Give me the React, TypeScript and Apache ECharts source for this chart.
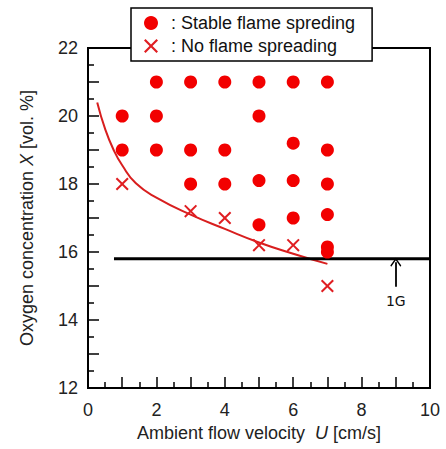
import React, { useEffect, useRef } from "react";
import * as echarts from "echarts";

// Stable flame spreading (U [cm/s], X [vol.%])
const stableU = [2, 3, 4, 5, 6, 7, 1, 2, 5, 1, 2, 3, 4, 6, 7, 3, 4, 5, 6, 7, 5, 6, 7, 7, 7];
const stableX = [21, 21, 21, 21, 21, 21, 20, 20, 20, 19, 19, 19, 19, 19.2, 19, 18, 18, 18.1, 18.1, 18, 16.8, 17, 17.1, 16.15, 16.0];

// No flame spreading
const noSpreadU = [1, 3, 4, 5, 6, 7];
const noSpreadX = [18, 17.2, 17, 16.2, 16.2, 15];

// Limit curve
const curveU = [0.27, 0.5, 0.75, 1.0, 1.4, 2, 3, 4, 5, 6, 7];
const curveX = [20.4, 19.62, 19.0, 18.55, 18.02, 17.6, 17.1, 16.68, 16.28, 15.95, 15.65];

// 1G line
const oneGU = [0.76, 10];
const oneGX = [15.8, 15.8];
const arrowU = 9;
const arrowFromX = 14.98;
const arrowToX = 15.7;
const oneGLabelX = 14.55;

const xTicks = [0, 2, 4, 6, 8, 10];
const yTicks = [12, 14, 16, 18, 20, 22];

const crossPath =
  "path://M0,1.3L1.3,0L6,4.7L10.7,0L12,1.3L7.3,6L12,10.7L10.7,12L6,7.3L1.3,12L0,10.7L4.7,6Z";
const chevron = "path://M0,0L6,7L5,8L0,2.2L-5,8L-6,7Z";

const FONT = "'Liberation Sans', Arial, sans-serif";

export default function App() {
  const ref = useRef<HTMLDivElement>(null);
  useEffect(() => {
    if (!ref.current) return;
    const chart = echarts.init(ref.current, undefined, { renderer: "svg" });
    const axisCommon = {
      axisLine: { show: true, onZero: false, lineStyle: { color: "#000", width: 2 } },
      axisTick: { show: true, inside: true, length: 11, lineStyle: { color: "#000", width: 1.5 } },
      minorTick: { show: true, splitNumber: 2, length: 6, lineStyle: { color: "#000", width: 1.5 } },
      splitLine: { show: false },
      minorSplitLine: { show: false },
    };
    chart.setOption({
      animation: false,
      backgroundColor: "#fff",
      grid: {
        left: 88,
        right: 16,
        top: 48,
        bottom: 61,
        show: true,
        borderColor: "#000",
        borderWidth: 2,
        backgroundColor: "transparent",
      },
      legend: {
        left: 131,
        top: 8,
        orient: "vertical",
        backgroundColor: "#fff",
        borderColor: "#000",
        borderWidth: 1.5,
        borderRadius: 0,
        padding: [6, 17, 6, 13],
        itemGap: 5,
        itemWidth: 14,
        itemHeight: 14,
        z: 10,
        textStyle: { fontSize: 18, color: "#111", fontFamily: FONT, padding: [0, 0, 0, 8] },
        data: [
          { name: "Stable flame spreding", icon: "circle" },
          { name: "No flame spreading", icon: crossPath },
        ],
        formatter: (n: string) => ": " + n,
      },
      xAxis: {
        type: "value",
        min: 0,
        max: 10,
        interval: 1,
        ...axisCommon,
        axisLabel: {
          fontSize: 18,
          color: "#222",
          fontFamily: FONT,
          margin: 13,
          formatter: (v: number) => (xTicks.includes(v) ? String(v) : ""),
        },
        name: "Ambient flow velocity  {i|U} [cm/s]",
        nameLocation: "middle",
        nameGap: 36,
        nameTextStyle: {
          fontSize: 18,
          color: "#222",
          fontFamily: FONT,
          rich: { i: { fontSize: 18, fontStyle: "italic", color: "#222", fontFamily: FONT } },
        },
      },
      yAxis: {
        type: "value",
        min: 12,
        max: 22,
        interval: 1,
        ...axisCommon,
        axisLabel: {
          fontSize: 18,
          color: "#222",
          fontFamily: FONT,
          margin: 10,
          formatter: (v: number) => (yTicks.includes(v) ? String(v) : ""),
        },
        name: "Oxygen concentration {i|X} [vol. %]",
        nameLocation: "middle",
        nameGap: 52,
        nameTextStyle: {
          fontSize: 18,
          color: "#222",
          fontFamily: FONT,
          rich: { i: { fontSize: 18, fontStyle: "italic", color: "#222", fontFamily: FONT } },
        },
      },
      series: [
        {
          type: "line",
          name: "curve",
          data: curveU.map((u, i) => [u, curveX[i]]),
          smooth: 0.5,
          showSymbol: false,
          symbol: "none",
          lineStyle: { color: "#d81e1e", width: 2 },
          z: 3,
        },
        {
          type: "line",
          name: "1G",
          data: oneGU.map((u, i) => [u, oneGX[i]]),
          showSymbol: false,
          symbol: "none",
          lineStyle: { color: "#000", width: 3 },
          z: 4,
          markLine: {
            silent: true,
            symbol: ["none", chevron],
            symbolSize: [11, 9],
            label: { show: false },
            lineStyle: { color: "#000", width: 1.8, type: "solid" },
            data: [[{ coord: [arrowU, arrowFromX] }, { coord: [arrowU, arrowToX] }]],
          },
          markPoint: {
            symbol: "circle",
            symbolSize: 0,
            label: {
              show: true,
              position: "inside",
              formatter: "1G",
              fontSize: 14,
              color: "#111",
              fontFamily: "'DejaVu Sans', sans-serif",
            },
            data: [{ coord: [arrowU, oneGLabelX] }],
          },
        },
        {
          type: "scatter",
          name: "Stable flame spreding",
          data: stableU.map((u, i) => [u, stableX[i]]),
          symbol: "circle",
          symbolSize: 13,
          itemStyle: { color: "#f20000", opacity: 1 },
          z: 5,
        },
        {
          type: "scatter",
          name: "No flame spreading",
          data: noSpreadU.map((u, i) => [u, noSpreadX[i]]),
          symbol: crossPath,
          symbolSize: 13,
          itemStyle: { color: "#e01e22", opacity: 1 },
          z: 5,
        },
      ],
    });
    return () => chart.dispose();
  }, []);
  return (
    <div
      ref={ref}
      style={{ position: "fixed", left: 0, top: 0, width: 446, height: 449, background: "#fff" }}
    />
  );
}
